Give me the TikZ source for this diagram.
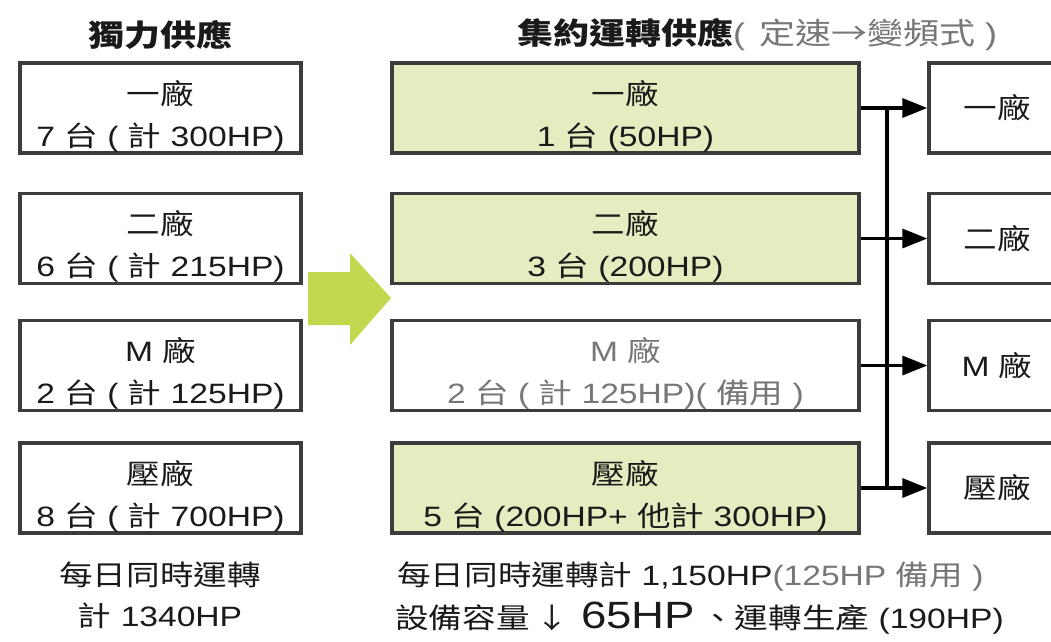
\documentclass[tikz,border=0pt]{standalone}
\usepackage{fontspec}
\setmainfont{Liberation Sans}[FakeStretch=1.2]
\newfontfamily\cjk{Noto Sans CJK TC}[FakeStretch=1.2]
\usetikzlibrary{arrows.meta,calc}
\definecolor{boxline}{HTML}{3C3C3C}
\definecolor{lgreen}{HTML}{E3EDC0}
\definecolor{agreen}{HTML}{C3D84E}
\definecolor{txt}{HTML}{1A1A1A}
\definecolor{gtxt}{HTML}{777777}
\newcommand\zh[1]{{\cjk #1}}
\begin{document}
\begin{tikzpicture}[x=1pt,y=-1pt,
  frame/.style={draw=boxline,line width=3.4pt,minimum width=#1,minimum height=90pt,inner sep=0pt},
  gframe/.style={frame=#1,fill=lgreen},
  bt/.style={text=txt,align=center,font=\fontsize{28}{42}\selectfont,inner sep=0pt},
  title/.style={text=txt,font=\fontsize{30}{36}\selectfont\bfseries,inner sep=0pt},
  conn/.style={draw=black,line width=3.4pt},
  arr/.style={conn,-{Triangle[length=25pt,width=19pt]}}]
\path[use as bounding box] (0,0) rectangle (1051,641);
\clip (0,0) rectangle (1051,641);
\fill[white] (0,0) rectangle (1051,641);

% titles
\node[title] (t1) at (160,35) {\zh{獨力供應}};
\node[title,anchor=west] (t2) at (517,35) {\zh{集約運轉供應}\mdseries\textcolor{gtxt}{(\hspace{4pt} \zh{定速→變頻式} )}};

% left boxes
\node[frame=281pt] (l1) at (160.5,108) {};
\node[frame=281pt] (l2) at (160.5,238.5) {};
\node[frame=281pt] (l3) at (160.5,365.5) {};
\node[frame=281pt] (l4) at (160.5,488) {};
\node[bt] (l1t) at ([yshift=-8pt]l1.center) {\zh{一廠}\\7 \zh{台} ( \zh{計} 300HP)};
\node[bt] (l2t) at ([yshift=-8pt]l2.center) {\zh{二廠}\\6 \zh{台} ( \zh{計} 215HP)};
\node[bt] (l3t) at ([yshift=-8pt]l3.center) {M \zh{廠}\\2 \zh{台} ( \zh{計} 125HP)};
\node[bt] (l4t) at ([yshift=-8pt]l4.center) {\zh{壓廠}\\8 \zh{台} ( \zh{計} 700HP)};

% green arrow
\fill[agreen] (308,272) -- (350,272) -- (350,253) -- (391,298) -- (350,345) -- (350,325) -- (308,325) -- cycle;

% middle boxes
\node[gframe=467pt] (m1) at (625.5,108) {};
\node[gframe=467pt] (m2) at (625.5,238.5) {};
\node[frame=467pt] (m3) at (625.5,365.5) {};
\node[gframe=467pt] (m4) at (625.5,488) {};
\node[bt] (m1t) at ([yshift=-8pt]m1.center) {\zh{一廠}\\1 \zh{台} (50HP)};
\node[bt] (m2t) at ([yshift=-8pt]m2.center) {\zh{二廠}\\3 \zh{台} (200HP)};
\node[bt,text=gtxt] (m3t) at ([yshift=-8pt]m3.center) {M \zh{廠}\\2 \zh{台} ( \zh{計} 125HP)( \zh{備用} )};
\node[bt] (m4t) at ([yshift=-8pt]m4.center) {\zh{壓廠}\\5 \zh{台} (200HP+ \zh{他計} 300HP)};

% right boxes
\node[frame=136pt] (r1) at (997,108) {};
\node[frame=136pt] (r2) at (997,238.5) {};
\node[frame=136pt] (r3) at (997,365.5) {};
\node[frame=136pt] (r4) at (997,488) {};
\node[bt] (r1t) at (r1.center) {\zh{一廠}};
\node[bt] (r2t) at (r2.center) {\zh{二廠}};
\node[bt] (r3t) at (r3.center) {M \zh{廠}};
\node[bt] (r4t) at (r4.center) {\zh{壓廠}};

% connectors
\coordinate (bus) at (887,108);
\draw[conn] (bus |- m1.east) -- (bus |- m4.east);
\draw[arr] (m1.east) -- (r1.west);
\draw[arr] (m2.east) -- (r2.west);
\draw[arr] (m3.east) -- (r3.west);
\draw[arr] (m4.east) -- (r4.west);

% bottom texts
\node[bt,font=\fontsize{28}{41}\selectfont] (bl) at (160,595) {\zh{每日同時運轉}\\\zh{計} 1340HP};
\node[bt,anchor=west] (bm1) at (397,577) {\zh{每日同時運轉計} 1,150HP\textcolor{gtxt}{(125HP \zh{備用} )}};
\node[bt,anchor=west] (bm2) at (395,618) {\zh{設備容量}\hspace{6pt}\zh{↓}\hspace{12pt}{\fontsize{38}{40}\selectfont 65HP}\hspace{6pt}\zh{、運轉生產} (190HP)};
\end{tikzpicture}
\end{document}
